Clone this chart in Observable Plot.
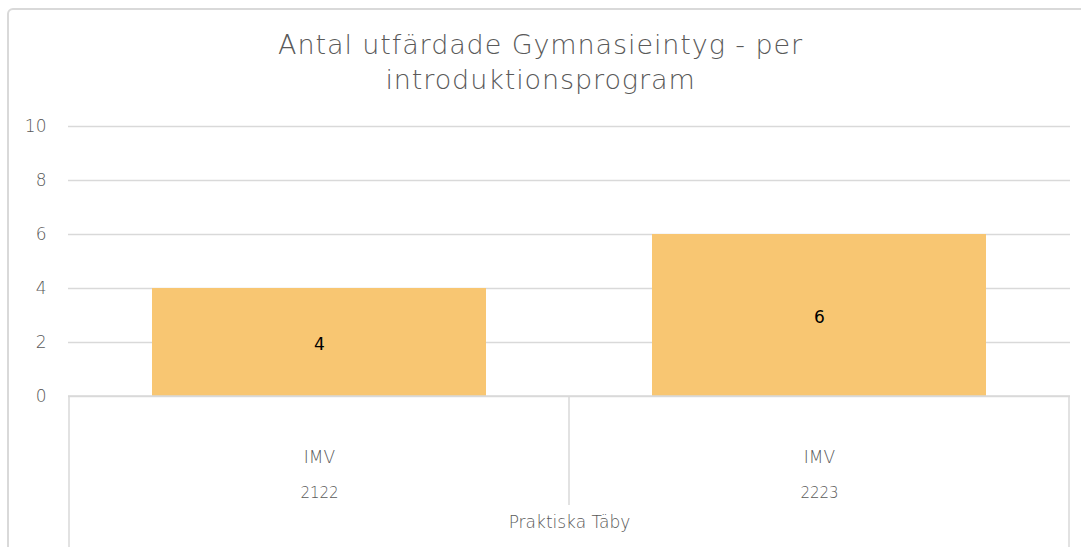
<!DOCTYPE html>
<html>
<head>
<meta charset="utf-8">
<script src="https://cdn.jsdelivr.net/npm/d3@7"></script>
<script src="https://cdn.jsdelivr.net/npm/@observablehq/plot@0.6"></script>
<style>
  html, body { margin: 0; padding: 0; background: #fff; overflow: hidden; }
  #wrap { position: relative; width: 1081px; height: 547px; overflow: hidden; font-family: "DejaVu Sans", sans-serif; }
  #border { position: absolute; left: 7px; top: 8px; width: 1120px; height: 600px; border: 2px solid #d9d9d9; border-radius: 6px; box-sizing: border-box; }
  #title { position: absolute; left: 0; top: 27px; width: 1081px; text-align: center; color: #595959; font-size: 27px; font-weight: 200; line-height: 35px; letter-spacing: 0.9px; }
  #chart { position: absolute; left: 0; top: 110px; }
</style>
</head>
<body>
<div id="wrap">
  <div id="border"></div>
  <div id="title">Antal utfärdade Gymnasieintyg - per<br>introduktionsprogram</div>
  <div id="chart"></div>
</div>
<script>
const years = ["2122", "2223"];
const programs = ["IMV", "IMV"];
const values = [4, 6];
const groupLabel = "Praktiska Täby";
const yTicks = [0, 2, 4, 6, 8, 10];

const data = years.map((y, i) => ({year: y, program: programs[i], value: values[i]}));

const W = 1081, H = 437;
const plot = Plot.plot({
  width: W,
  height: H,
  marginTop: 16,
  marginBottom: 151,
  marginLeft: 68,
  marginRight: 11,
  style: {fontFamily: "DejaVu Sans, sans-serif", background: "transparent", overflow: "visible"},
  x: {domain: years, paddingInner: 0.3313, paddingOuter: 0.1657, axis: null},
  y: {domain: [0, 10], axis: null},
  marks: [
    Plot.gridY(yTicks, {stroke: "#d9d9d9", strokeOpacity: 1, strokeWidth: 1.5}),
    Plot.axisY(yTicks, {tickSize: 0, tickPadding: 22, fontSize: 17, fill: "#595959", fontWeight: 300, label: null}),
    Plot.barY(data, {x: "year", y: "value", fill: "#F8C672"}),
    Plot.text(data, {x: "year", y: d => d.value / 2, text: d => String(d.value), fontSize: 17, fill: "#000", dy: 2}),
    Plot.text(data, {x: "year", y: 0, text: "program", fontSize: 17, fill: "#595959", dy: 61, fontWeight: 300}),
    Plot.text(data, {x: "year", y: 0, text: "year", fontSize: 15, fill: "#595959", dy: 97, fontWeight: 300}),
    Plot.text([groupLabel], {frameAnchor: "bottom", text: d => d, fontSize: 17, fill: "#595959", dy: 131, fontWeight: 300})
  ]
});
document.getElementById("chart").appendChild(plot);

// multi-level category axis separators, placed with the plot's own scales
const xs = plot.scale("x");
const ys = plot.scale("y");
const y0 = ys.apply(0);
const half = (xs.step - xs.bandwidth) / 2;
const svg = d3.select(plot);
const g = svg.append("g").attr("stroke", "#d9d9d9").attr("stroke-width", 1.5);
g.append("line").attr("x1", 68).attr("x2", W - 11).attr("y1", y0).attr("y2", y0);
years.forEach((yr, i) => {
  const left = xs.apply(yr) - half;
  const right = left + xs.step;
  g.append("line").attr("x1", left).attr("x2", left).attr("y1", y0)
    .attr("y2", i === 0 ? H : y0 + 109);
  if (i === years.length - 1) {
    g.append("line").attr("x1", right).attr("x2", right).attr("y1", y0).attr("y2", H);
  }
});
</script>
</body>
</html>
